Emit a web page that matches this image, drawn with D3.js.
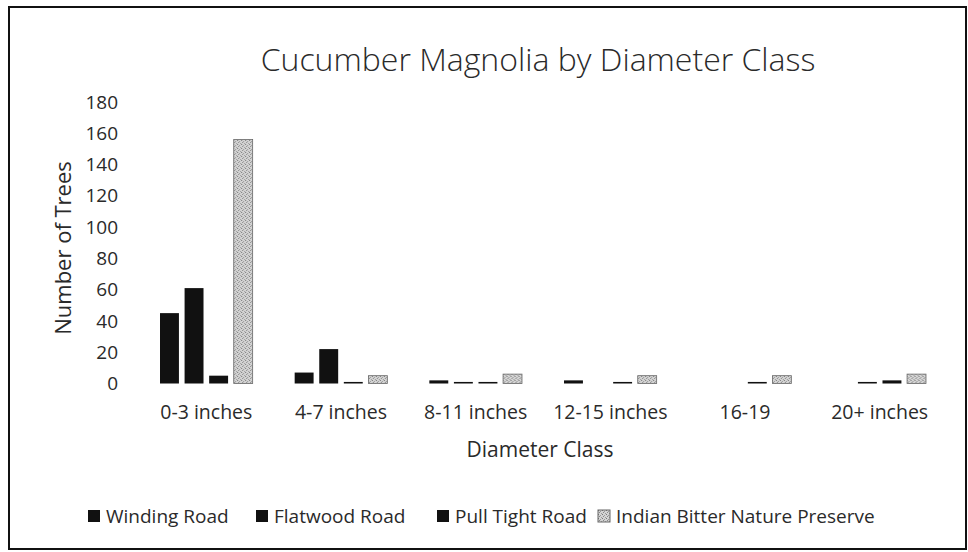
<!DOCTYPE html>
<html>
<head>
<meta charset="utf-8">
<script src="https://cdn.jsdelivr.net/npm/d3@7"></script>
<style>
  html, body { margin: 0; padding: 0; background: #fff; }
  svg { display: block; }
  text { font-family: "Open Sans", Lato, sans-serif; fill: #2a2a2a; }
</style>
</head>
<body>
<svg id="chart" width="968" height="552"></svg>
<script>
const categories = ["0-3 inches", "4-7 inches", "8-11 inches", "12-15 inches", "16-19", "20+ inches"];
const seriesNames = ["Winding Road", "Flatwood Road", "Pull Tight Road", "Indian Bitter Nature Preserve"];
const windingRoad = [45, 7, 2, 2, 0, 0];
const flatwoodRoad = [61, 22, 1, 0, 0, 1];
const pullTightRoad = [5, 1, 1, 1, 1, 2];
const indianBitter = [156, 5, 6, 5, 5, 6];
const yTicks = [0, 20, 40, 60, 80, 100, 120, 140, 160, 180];
const titleText = "Cucumber Magnolia by Diameter Class";
const xTitle = "Diameter Class";
const yTitle = "Number of Trees";

const seriesValues = [windingRoad, flatwoodRoad, pullTightRoad, indianBitter];
const FONT = "'Open Sans', Lato, sans-serif";

const svg = d3.select("#chart");

// pattern for the stippled grey series
const defs = svg.append("defs");
const pat = defs.append("pattern").attr("id", "stipple")
  .attr("patternUnits", "userSpaceOnUse").attr("width", 4).attr("height", 4);
pat.append("rect").attr("width", 4).attr("height", 4).attr("fill", "#d4d4d4");
pat.append("rect").attr("x", 0).attr("y", 0).attr("width", 1).attr("height", 1).attr("fill", "#777");
pat.append("rect").attr("x", 2).attr("y", 1).attr("width", 1).attr("height", 1).attr("fill", "#999");
pat.append("rect").attr("x", 1).attr("y", 2).attr("width", 1).attr("height", 1).attr("fill", "#888");
pat.append("rect").attr("x", 3).attr("y", 3).attr("width", 1).attr("height", 1).attr("fill", "#999");

const fills = ["#111", "#111", "#111", "url(#stipple)"];

// outer frame
svg.append("rect").attr("x", 9).attr("y", 7).attr("width", 957).attr("height", 542)
  .attr("fill", "none").attr("stroke", "#111").attr("stroke-width", 2);

// scales
const x0 = d3.scaleBand().domain(categories).range([139, 947])
  .paddingInner(0.27).paddingOuter(0.135);
const x1 = d3.scaleBand().domain(seriesNames).range([0, x0.bandwidth()])
  .paddingInner(0.23).paddingOuter(0.115);
const y = d3.scaleLinear().domain([0, 180]).range([383.5, 102]);

// title
svg.append("text").attr("x", 538).attr("y", 71).attr("text-anchor", "middle")
  .style("font-size", "32px").style("font-weight", 300).text(titleText);

// y axis (labels only)
const yAxis = d3.axisLeft(y).tickValues(yTicks).tickSize(0).tickPadding(0);
const gy = svg.append("g").attr("transform", "translate(118,0)").call(yAxis);
gy.select(".domain").remove();
gy.selectAll("text").style("font-size", "19px").style("font-family", FONT).attr("fill", "#2a2a2a");

// x axis (labels only)
const xAxis = d3.axisBottom(x0).tickSize(0).tickPadding(0);
const gx = svg.append("g").attr("transform", "translate(0,405)").call(xAxis);
gx.select(".domain").remove();
gx.selectAll("text").style("font-size", "19.5px").style("font-family", FONT).attr("fill", "#2a2a2a");

// axis titles
svg.append("text").attr("x", 540).attr("y", 457).attr("text-anchor", "middle")
  .style("font-size", "21px").text(xTitle);
svg.append("text").attr("transform", "translate(71,248) rotate(-90)").attr("text-anchor", "middle")
  .style("font-size", "22px").text(yTitle);

// bars
const groups = svg.append("g").selectAll("g").data(categories).join("g")
  .attr("transform", d => `translate(${x0(d)},0)`);
groups.selectAll("rect")
  .data((c, ci) => seriesNames.map((s, si) => ({ s, si, v: seriesValues[si][ci] })))
  .join("rect")
  .filter(d => d.v > 0)
  .attr("x", d => x1(d.s))
  .attr("y", d => y(d.v))
  .attr("width", x1.bandwidth())
  .attr("height", d => y(0) - y(d.v))
  .attr("fill", d => fills[d.si])
  .attr("stroke", d => d.si === 3 ? "#666" : "none")
  .attr("stroke-width", 0.8);

// legend
const legendX = [88, 256, 437, 598];
const lg = svg.append("g").selectAll("g").data(seriesNames).join("g")
  .attr("transform", (d, i) => `translate(${legendX[i]},510)`);
lg.append("rect").attr("width", 12).attr("height", 12)
  .attr("fill", (d, i) => fills[i]).attr("stroke", (d, i) => i === 3 ? "#666" : "none");
lg.append("text").attr("x", 18).attr("y", 12.5).style("font-size", "19px").text(d => d);
</script>
</body>
</html>
